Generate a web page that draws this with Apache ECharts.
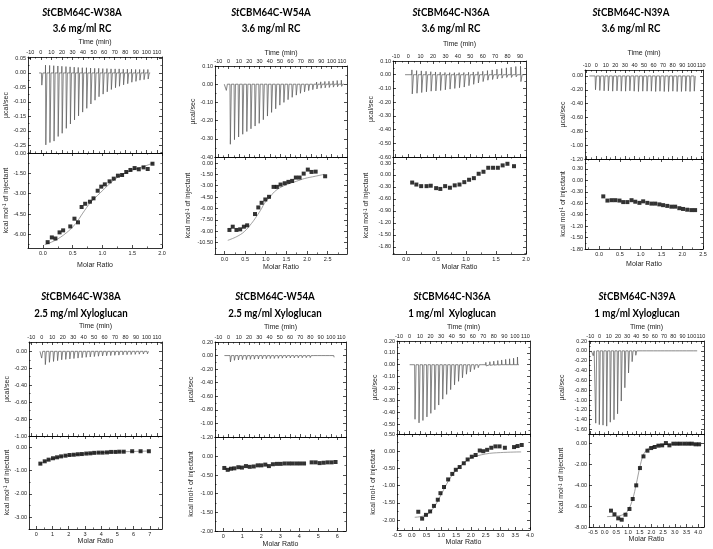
<!DOCTYPE html>
<html>
<head>
<meta charset="utf-8">
<script src="https://cdn.jsdelivr.net/npm/echarts@6/dist/echarts.min.js"></script>
<style>
html,body{margin:0;padding:0;background:#fff;}
#chart{width:713px;height:549px;}
</style>
</head>
<body>
<div id="chart"></div>
<script>
// ================= DATA =================
const titleNames = ['CBM64C-W38A','CBM64C-W54A','CBM64C-N36A','CBM64C-N39A','CBM64C-W38A','CBM64C-W54A','CBM64C-N36A','CBM64C-N39A'];
const titleSubs = ['3.6 mg/ml RC','3.6 mg/ml RC','3.6 mg/ml RC','3.6 mg/ml RC','2.5 mg/ml Xyloglucan','2.5 mg/ml Xyloglucan','1 mg/ml  Xyloglucan','1 mg/ml Xyloglucan'];

// tick label values
const timeTicks110 = [-10,0,10,20,30,40,50,60,70,80,90,100,110];
const timeTicks90 = [-10,0,10,20,30,40,50,60,70,80,90];
const p1UpperTicks = [0.05,0.00,-0.05,-0.10,-0.15,-0.20,-0.25];
const p1LowerTicks = [0.00,-1.50,-3.00,-4.50,-6.00];
const p1RatioTicks = [0.0,0.5,1.0,1.5,2.0];
const p2UpperTicks = [0.10,0.00,-0.10,-0.20,-0.30,-0.40];
const p2LowerTicks = [0.00,-1.50,-3.00,-4.50,-6.00,-7.50,-9.00,-10.50];
const p2RatioTicks = [0.0,0.5,1.0,1.5,2.0,2.5];
const p3UpperTicks = [0.10,0.00,-0.10,-0.20,-0.30,-0.40,-0.50,-0.60];
const p3LowerTicks = [0.30,0.00,-0.30,-0.60,-0.90,-1.20,-1.50,-1.80];
const p3RatioTicks = [0.0,0.5,1.0,1.5,2.0];
const p4UpperTicks = [0.00,-0.20,-0.40,-0.60,-0.80,-1.00,-1.20];
const p4LowerTicks = [0.30,0.00,-0.30,-0.60,-0.90,-1.20,-1.50,-1.80];
const p4RatioTicks = [0.0,0.5,1.0,1.5,2.0,2.5];
const p5UpperTicks = [0.00,-0.20,-0.40,-0.60,-0.80,-1.00];
const p5LowerTicks = [0.00,-1.00,-2.00,-3.00];
const p5RatioTicks = [0,1,2,3,4,5,6,7];
const p6UpperTicks = [0.20,0.00,-0.20,-0.40,-0.60,-0.80,-1.00,-1.20];
const p6LowerTicks = [0.00,-0.50,-1.00,-1.50,-2.00];
const p6RatioTicks = [0,1,2,3,4,5,6];
const p7UpperTicks = [0.20,0.10,0.00,-0.10,-0.20,-0.30,-0.40,-0.50];
const p7LowerTicks = [0.50,0.00,-0.50,-1.00,-1.50,-2.00];
const p7RatioTicks = [-0.5,0.0,0.5,1.0,1.5,2.0,2.5,3.0,3.5,4.0];
const p8UpperTicks = [0.20,0.00,-0.20,-0.40,-0.60,-0.80,-1.00,-1.20,-1.40,-1.60];
const p8LowerTicks = [0.00,-2.00,-4.00,-6.00,-8.00];
const p8RatioTicks = [-0.5,0.0,0.5,1.0,1.5,2.0,2.5,3.0,3.5,4.0];

// ---- panel 1: W38A, RC ----
const p1InjTime = [0.5,4.3,8.2,12.1,16.0,19.8,23.7,27.6,31.5,35.3,39.2,43.1,47.0,50.9,54.7,58.6,62.5,66.4,70.3,74.1,78.0,81.9,85.8,89.7,93.5,97.4,101.3];
const p1InjMin = [-0.042,-0.248,-0.240,-0.235,-0.219,-0.208,-0.191,-0.176,-0.162,-0.148,-0.135,-0.122,-0.107,-0.094,-0.082,-0.073,-0.065,-0.057,-0.051,-0.046,-0.041,-0.037,-0.032,-0.029,-0.025,-0.023,-0.021];
const p1InjMax = [0,0.027,0.026,0.025,0.024,0.023,0.022,0.021,0.020,0.019,0.018,0.018,0.017,0.016,0.016,0.015,0.015,0.014,0.014,0.014,0.013,0.013,0.013,0.012,0.012,0.012,0.012];
const p1Base = [-1.7,103.6];
const p1Ratio = [0.08,0.15,0.21,0.28,0.34,0.46,0.53,0.59,0.65,0.71,0.79,0.85,0.92,0.98,1.04,1.12,1.19,1.26,1.33,1.40,1.47,1.54,1.61,1.69,1.76,1.84];
const p1Heat = [-6.57,-6.22,-6.30,-5.85,-5.70,-5.41,-4.84,-5.11,-3.98,-3.74,-3.59,-3.34,-2.78,-2.48,-2.31,-2.09,-1.89,-1.67,-1.62,-1.40,-1.25,-1.11,-1.20,-1.06,-1.18,-0.79];
const p1FitX = [0.03,0.2,0.39,0.55,0.67,0.8,0.96,1.1,1.24,1.4,1.52,1.7,1.85];
const p1FitY = [-6.76,-6.45,-5.9,-5.2,-4.43,-3.65,-2.95,-2.35,-1.84,-1.45,-1.23,-0.98,-0.74];

// ---- panel 2: W54A, RC ----
const p2InjTime = [-2.6,1.3,5.3,9.3,13.3,17.3,21.3,25.3,29.3,33.3,37.3,41.3,45.3,49.3,53.3,57.3,61.3,65.3,69.3,73.3,77.3,81.3,85.3,89.3,93.3,97.3,101.3,105.3,109.3];
const p2InjMin = [-0.034,-0.33,-0.305,-0.29,-0.275,-0.26,-0.245,-0.23,-0.215,-0.195,-0.175,-0.155,-0.135,-0.115,-0.10,-0.085,-0.072,-0.06,-0.05,-0.042,-0.035,-0.03,-0.026,-0.022,-0.02,-0.018,-0.016,-0.014,-0.012];
const p2InjMax = [0,0,0,0,0,0,0,0,0,0,0,0,0,0,0.002,0.003,0.004,0.005,0.006,0.008,0.009,0.010,0.012,0.013,0.015,0.016,0.018,0.020,0.022];
const p2Base = [-4.2,112];
const p2Ratio = [0.12,0.20,0.29,0.38,0.47,0.55,0.74,0.82,0.90,0.99,1.08,1.19,1.27,1.36,1.46,1.55,1.64,1.73,1.82,1.92,2.02,2.11,2.21,2.44];
const p2Heat = [-8.83,-8.40,-8.83,-8.75,-8.40,-8.22,-6.73,-5.86,-5.25,-4.81,-4.46,-3.15,-3.15,-2.84,-2.67,-2.49,-2.36,-1.92,-1.92,-1.40,-0.87,-1.18,-1.14,-1.75];
const p2FitX = [0.08,0.3,0.48,0.65,0.77,0.9,0.97,1.1,1.21,1.35,1.53,1.75,1.94,2.2,2.42];
const p2FitY = [-10.2,-9.7,-9.05,-8.0,-7.1,-6.0,-5.3,-4.5,-3.8,-3.25,-2.8,-2.4,-2.05,-1.75,-1.49];

// ---- panel 3: N36A, RC ----
const p3InjTime = [2.9,6.7,10.5,14.3,18.1,21.9,25.7,29.5,33.3,37.1,40.9,44.7,48.5,52.3,56.1,59.9,63.7,67.5,71.3,75.1,78.9,82.7,86.5,90.3];
const p3InjMin = [-0.14,-0.135,-0.13,-0.125,-0.12,-0.118,-0.115,-0.11,-0.105,-0.10,-0.095,-0.09,-0.08,-0.07,-0.06,-0.05,-0.04,-0.035,-0.03,-0.025,-0.02,-0.02,-0.015,-0.05];
const p3InjMax = [0.035,0.03,0.028,0.025,0.022,0.02,0.018,0.016,0.015,0.015,0.015,0.016,0.018,0.02,0.022,0.025,0.03,0.035,0.04,0.045,0.05,0.055,0.06,0.062];
const p3Base = [-2.5,93.5];
const p3Ratio = [0.10,0.17,0.25,0.34,0.41,0.50,0.57,0.65,0.73,0.81,0.89,0.97,1.05,1.13,1.21,1.29,1.37,1.45,1.53,1.61,1.69,1.80];
const p3Heat = [-0.19,-0.24,-0.28,-0.28,-0.27,-0.33,-0.35,-0.28,-0.32,-0.26,-0.24,-0.18,-0.12,-0.08,0.03,0.08,0.18,0.18,0.18,0.24,0.28,0.22];

// ---- panel 4: N39A, RC ----
const p4InjTime = [-1.2,3.3,7.8,12.3,16.8,21.3,25.8,30.3,34.8,39.3,43.8,48.3,52.8,57.3,61.8,66.3,70.8,75.3,79.8,84.3,88.8,93.3,97.8,102.3];
const p4InjMin = [-0.20,-0.21,-0.215,-0.215,-0.22,-0.215,-0.22,-0.22,-0.215,-0.22,-0.225,-0.22,-0.22,-0.22,-0.225,-0.22,-0.225,-0.225,-0.22,-0.225,-0.225,-0.22,-0.225,-0.22];
const p4InjMax = [0.005,0.005,0.005,0.005,0.005,0.005,0.005,0.005,0.005,0.005,0.005,0.005,0.005,0.005,0.005,0.005,0.005,0.005,0.005,0.005,0.005,0.005,0.005,0.005];
const p4Base = [-7.2,103.5];
const p4Ratio = [0.10,0.20,0.30,0.39,0.49,0.58,0.68,0.78,0.87,0.97,1.06,1.16,1.26,1.35,1.45,1.54,1.64,1.74,1.83,1.93,2.02,2.12,2.22,2.31];
const p4Heat = [-0.42,-0.53,-0.52,-0.52,-0.53,-0.57,-0.57,-0.52,-0.56,-0.59,-0.55,-0.59,-0.61,-0.61,-0.63,-0.65,-0.67,-0.69,-0.69,-0.73,-0.75,-0.77,-0.78,-0.78];

// ---- panel 5: W38A, xyloglucan ----
const p5InjTime = [-0.5,3.0,6.9,10.8,14.7,18.6,22.5,26.4,30.3,34.2,38.1,42.0,45.9,49.8,53.7,57.6,61.5,65.4,69.3,73.2,77.1,81.0,84.9,88.8,92.7,96.6,100.5];
const p5InjMin = [-0.08,-0.157,-0.13,-0.12,-0.11,-0.10,-0.095,-0.09,-0.085,-0.08,-0.075,-0.07,-0.066,-0.062,-0.058,-0.055,-0.052,-0.05,-0.047,-0.045,-0.042,-0.04,-0.038,-0.036,-0.034,-0.032,-0.03];
const p5InjMax = [];
const p5Base = [-1.7,102.5];
const p5Ratio = [0.25,0.52,0.76,1.03,1.28,1.53,1.80,2.05,2.31,2.56,2.81,3.08,3.33,3.57,3.84,4.09,4.36,4.61,4.88,5.12,5.39,5.91,6.43,6.94];
const p5Heat = [-0.71,-0.61,-0.54,-0.48,-0.44,-0.40,-0.37,-0.34,-0.33,-0.31,-0.30,-0.28,-0.27,-0.25,-0.24,-0.24,-0.23,-0.21,-0.21,-0.20,-0.20,-0.18,-0.18,-0.18];
const p5FitX = [0.2,0.5,1,1.5,2,3,4,5,6,7];
const p5FitY = [-0.75,-0.62,-0.5,-0.41,-0.36,-0.29,-0.24,-0.21,-0.19,-0.17];

// ---- panel 6: W54A, xyloglucan ----
const p6InjTime = [1.4,5.3,9.2,13.1,17.0,20.9,24.8,28.7,32.6,36.5,40.4,44.3,48.2,52.1,56.0,59.9,63.8,67.7,71.6,75.5,79.4,83.3,87.2,91.1,95.0,98.9,102.8];
const p6InjMin = [-0.093,-0.07,-0.065,-0.06,-0.058,-0.055,-0.052,-0.05,-0.048,-0.046,-0.044,-0.042,-0.04,-0.038,-0.036,-0.035,-0.034,-0.033,-0.032,-0.031,-0.03,-0.029,-0.028,-0.027,-0.026,-0.025,-0.025];
const p6InjMax = [];
const p6Base = [-4.1,103.5];
const p6Ratio = [0.05,0.23,0.40,0.58,0.79,0.98,1.19,1.39,1.60,1.81,2.00,2.21,2.40,2.61,2.82,3.02,3.23,3.44,3.63,3.84,4.04,4.25,4.65,4.86,5.07,5.28,5.49,5.70,5.91];
const p6Heat = [-0.31,-0.36,-0.33,-0.32,-0.29,-0.30,-0.26,-0.28,-0.27,-0.24,-0.24,-0.22,-0.26,-0.21,-0.20,-0.20,-0.19,-0.19,-0.19,-0.19,-0.19,-0.19,-0.16,-0.16,-0.18,-0.17,-0.16,-0.16,-0.15];

// ---- panel 7: N36A, xyloglucan ----
const p7InjTime = [4.8,8.6,12.3,16.1,19.8,23.6,27.3,31.1,34.8,38.6,42.3,46.1,49.8,53.6,57.3,61.1,64.8,68.6,72.3,76.1,79.8,83.6,87.3,91.1,94.8,98.6,102.3];
const p7InjMin = [-0.46,-0.49,-0.47,-0.44,-0.41,-0.38,-0.34,-0.29,-0.25,-0.21,-0.17,-0.14,-0.11,-0.08,-0.06,-0.04,-0.025,-0.015,-0.01,-0.005,-0.003,-0.002,0,0,0,0,0];
const p7InjMax = [0,0,0,0,0,0,0,0,0,0,0,0,0.002,0.004,0.005,0.007,0.01,0.015,0.02,0.025,0.03,0.035,0.04,0.045,0.05,0.055,0.065];
const p7Base = [0.1,104.2];
const p7Ratio = [0.22,0.35,0.48,0.62,0.75,0.88,0.97,1.09,1.23,1.37,1.49,1.62,1.76,1.89,2.03,2.16,2.30,2.42,2.55,2.69,2.83,2.97,3.15,3.46,3.58,3.72];
const p7Heat = [-1.76,-1.96,-1.85,-1.75,-1.59,-1.41,-1.22,-1.04,-0.82,-0.66,-0.54,-0.46,-0.35,-0.24,-0.16,-0.11,0.02,0.00,0.04,0.10,0.14,0.14,0.10,0.12,0.15,0.18];
const p7FitX = [0.1,0.5,0.75,1.0,1.25,1.5,1.75,2.0,2.5,3.0,3.7];
const p7FitY = [-1.92,-1.85,-1.63,-1.25,-0.85,-0.55,-0.35,-0.2,-0.08,-0.04,-0.02];

// ---- panel 8: N39A, xyloglucan ----
const p8InjTime = [-7.2,-4.5,-0.6,3.4,7.4,11.3,15.3,19.2,23.2,27.1,31.1,35.0,39.0,42.9,46.9,50.8,54.8,58.7,62.7,66.6,70.6,74.5,78.5,82.4,86.4,90.3,94.3,98.2,102.2];
const p8InjMin = [-0.1,-1.47,-1.50,-1.51,-1.53,-1.45,-1.40,-1.28,-1.02,-0.75,-0.45,-0.22,-0.09,-0.04,-0.02,-0.01,-0.01,-0.01,-0.01,-0.01,-0.01,-0.01,-0.01,-0.01,-0.01,-0.01,-0.01,-0.01,-0.01];
const p8InjMax = [0,0,0,0,0,0,0,0,0,0,0,0,0,0,0.005,0.01,0.015,0.02,0.02,0.025,0.025,0.025,0.025,0.025,0.025,0.025,0.025,0.025,0.025];
const p8Base = [-8.9,106];
const p8Ratio = [0.27,0.42,0.58,0.73,0.89,1.06,1.20,1.35,1.51,1.66,1.83,1.99,2.14,2.30,2.46,2.62,2.77,2.94,3.10,3.25,3.42,3.58,3.73,3.89,4.04];
const p8Heat = [-6.43,-6.78,-7.17,-7.30,-6.82,-6.27,-5.31,-4.00,-2.34,-1.22,-0.67,-0.42,-0.32,-0.19,-0.16,0.06,-0.16,0.00,0.00,0.00,0.00,0.00,0.00,-0.06,-0.06];
const p8FitX = [0.1,0.5,0.8,1.0,1.2,1.35,1.5,1.65,1.8,2.0,2.5,3.0,4.05];
const p8FitY = [-7.0,-6.95,-6.8,-6.4,-5.3,-3.9,-2.3,-1.1,-0.6,-0.3,-0.1,-0.05,-0.03];

// ================= LAYOUT (positions only) =================
const layout = [
  {L:28, R:162, T:57, M:153, B:248, cx:82,  ty:[12,28],   tGap:11, uGap:14, lGap:14, mGap:14},
  {L:215,R:347, T:66, M:157, B:254, cx:271, ty:[12,28],   tGap:9,  uGap:11, lGap:23, mGap:10},
  {L:393,R:526, T:61, M:157, B:254, cx:451, ty:[12,28],   tGap:13, uGap:11, lGap:23, mGap:10},
  {L:585,R:703, T:70, M:159, B:249, cx:631, ty:[12,28],   tGap:13, uGap:15, lGap:15, mGap:12},
  {L:29, R:162, T:342,M:436, B:529, cx:81,  ty:[296,313], tGap:12, uGap:15, lGap:15, mGap:9},
  {L:215,R:346, T:342,M:437, B:532, cx:275, ty:[296,313], tGap:11, uGap:20, lGap:20, mGap:10},
  {L:397,R:530, T:341,M:434, B:530, cx:452, ty:[296,313], tGap:10, uGap:18, lGap:20, mGap:8},
  {L:589,R:704, T:341,M:434, B:527, cx:637, ty:[296,313], tGap:10, uGap:23, lGap:24, mGap:8}
];

const panels = [
  {inj:[p1InjTime,p1InjMin,p1InjMax,p1Base], t:[-12.2,114.8], tt:timeTicks110, u:[-0.276,0.055], ut:p1UpperTicks, r:[-0.25,2.0], rt:p1RatioTicks, rd:1, l:[-7.0,0.0], lt:p1LowerTicks, pts:[p1Ratio,p1Heat], fit:[p1FitX,p1FitY]},
  {inj:[p2InjTime,p2InjMin,p2InjMax,p2Base], t:[-13.2,114.9], tt:timeTicks110, u:[-0.40,0.10], ut:p2UpperTicks, r:[-0.23,2.97], rt:p2RatioTicks, rd:1, l:[-12.0,0.79], lt:p2LowerTicks, pts:[p2Ratio,p2Heat], fit:[p2FitX,p2FitY]},
  {inj:[p3InjTime,p3InjMin,p3InjMax,p3Base], t:[-12.2,94.8], tt:timeTicks90, u:[-0.60,0.10], ut:p3UpperTicks, r:[-0.22,2.0], rt:p3RatioTicks, rd:1, l:[-1.98,0.45], lt:p3LowerTicks, pts:[p3Ratio,p3Heat], fit:null},
  {inj:[p4InjTime,p4InjMin,p4InjMax,p4Base], t:[-11.8,111.8], tt:timeTicks110, u:[-1.20,0.086], ut:p4UpperTicks, r:[-0.34,2.5], rt:p4RatioTicks, rd:1, l:[-1.80,0.56], lt:p4LowerTicks, pts:[p4Ratio,p4Heat], fit:null},
  {inj:[p5InjTime,p5InjMin,p5InjMax,p5Base], t:[-12.2,114.8], tt:timeTicks110, u:[-1.00,0.11], ut:p5UpperTicks, r:[-0.45,7.75], rt:p5RatioTicks, rd:0, l:[-3.5,0.47], lt:p5LowerTicks, pts:[p5Ratio,p5Heat], fit:[p5FitX,p5FitY]},
  {inj:[p6InjTime,p6InjMin,p6InjMax,p6Base], t:[-13.3,114.8], tt:timeTicks110, u:[-1.20,0.20], ut:p6UpperTicks, r:[-0.44,6.46], rt:p6RatioTicks, rd:0, l:[-2.0,0.52], lt:p6LowerTicks, pts:[p6Ratio,p6Heat], fit:null},
  {inj:[p7InjTime,p7InjMin,p7InjMax,p7Base], t:[-11.9,114.3], tt:timeTicks110, u:[-0.584,0.20], ut:p7UpperTicks, r:[-0.5,4.0], rt:p7RatioTicks, rd:1, l:[-2.29,0.5], lt:p7LowerTicks, pts:[p7Ratio,p7Heat], fit:[p7FitX,p7FitY]},
  {inj:[p8InjTime,p8InjMin,p8InjMax,p8Base], t:[-11.4,113.4], tt:timeTicks110, u:[-1.69,0.20], ut:p8UpperTicks, r:[-0.67,4.25], rt:p8RatioTicks, rd:1, l:[-8.0,0.93], lt:p8LowerTicks, pts:[p8Ratio,p8Heat], fit:[p8FitX,p8FitY]}
];

// ================= BUILD =================
const FONT = '"Liberation Sans", Arial, sans-serif';
const option = {animation:false, backgroundColor:'#ffffff', grid:[], xAxis:[], yAxis:[], series:[], graphic:[]};

function fmt(v, d) { return (Math.abs(v) < 1e-9 ? 0 : v).toFixed(d); }

function minorsOf(majors, min, max) {
  const s = majors.slice().sort((a,b)=>a-b);
  const step = s[1]-s[0];
  const out = [];
  for (let k = -1; k < s.length; k++) {
    const v = s[0] + step*(k+0.5);
    if (v >= min-1e-9 && v <= max+1e-9) out.push(v);
  }
  return out;
}

function addAxis(dim, grid, pos, min, max, majors, opts) {
  opts = opts || {};
  const list = dim === 'x' ? option.xAxis : option.yAxis;
  const base = {type:'value', gridIndex:grid, position:pos, min:min, max:max, splitLine:{show:false}, splitArea:{show:false}};
  const primary = Object.assign({}, base, {
    axisLine:{show:true, onZero:false, lineStyle:{color:'#000', width:0.8}},
    axisTick:{show:true, inside:true, length:3, customValues:majors, lineStyle:{color:'#000', width:0.7}},
    axisLabel: opts.dec !== undefined ? {show:true, customValues:majors, formatter:(v)=>fmt(v,opts.dec), fontSize:5.5, fontFamily:FONT, color:'#222', margin:2} : {show:false}
  });
  if (opts.name) {
    primary.name = opts.name;
    primary.nameLocation = 'middle';
    primary.nameGap = opts.nameGap;
    primary.nameTextStyle = {fontSize:7, fontFamily:FONT, color:'#222', rich: opts.rich || {}};
  }
  list.push(primary);
  const idx = list.length - 1;
  list.push(Object.assign({}, base, {
    axisLine:{show:false, onZero:false},
    axisTick:{show:true, inside:true, length:1.6, customValues:minorsOf(majors,min,max), lineStyle:{color:'#000', width:0.6}},
    axisLabel:{show:false}
  }));
  return idx;
}

function thermoPoints(times, mins, maxs, base) {
  const pts = [[base[0], 0]];
  times.forEach((t, i) => {
    const mx = maxs[i] || 0;
    pts.push([t, 0]);
    if (mx) pts.push([t + 0.1, mx]);
    pts.push([t + 0.4, mins[i]]);
    pts.push([t + 1.4, 0]);
  });
  pts.push([base[1], 0]);
  return pts;
}

const supRich = {sup:{fontSize:4.5, fontFamily:FONT, color:'#222', verticalAlign:'top', lineHeight:6}};

panels.forEach((p, k) => {
  const g = layout[k];
  const gu = option.grid.length;
  option.grid.push({left:g.L, top:g.T, width:g.R-g.L, height:g.M-g.T, show:false});
  const gl = option.grid.length;
  option.grid.push({left:g.L, top:g.M, width:g.R-g.L, height:g.B-g.M, show:false});

  const xt = addAxis('x', gu, 'top', p.t[0], p.t[1], p.tt, {dec:0, name:'Time (min)', nameGap:g.tGap});
  addAxis('x', gu, 'bottom', p.t[0], p.t[1], p.tt, {});
  const yu = addAxis('y', gu, 'left', p.u[0], p.u[1], p.ut, {dec:2, name:'\u00b5cal/sec', nameGap:g.uGap});
  addAxis('y', gu, 'right', p.u[0], p.u[1], p.ut, {});

  const xb = addAxis('x', gl, 'bottom', p.r[0], p.r[1], p.rt, {dec:p.rd, name:'Molar Ratio', nameGap:g.mGap});
  addAxis('x', gl, 'top', p.r[0], p.r[1], p.rt, {});
  const yl = addAxis('y', gl, 'left', p.l[0], p.l[1], p.lt, {dec:2, name:'kcal mol{sup|-1} of injectant', nameGap:g.lGap, rich:supRich});
  addAxis('y', gl, 'right', p.l[0], p.l[1], p.lt, {});

  option.series.push({
    type:'line', xAxisIndex:xt, yAxisIndex:yu, data:thermoPoints(p.inj[0], p.inj[1], p.inj[2], p.inj[3]),
    symbol:'none', showSymbol:false, lineStyle:{color:'#555', width:0.7}, clip:true, silent:true, z:2
  });
  if (p.fit) {
    option.series.push({
      type:'line', xAxisIndex:xb, yAxisIndex:yl, data:p.fit[0].map((x,i)=>[x, p.fit[1][i]]),
      smooth:0.4, symbol:'none', showSymbol:false, lineStyle:{color:'#777', width:0.7}, clip:true, silent:true, z:2
    });
  }
  option.series.push({
    type:'scatter', xAxisIndex:xb, yAxisIndex:yl, data:p.pts[0].map((x,i)=>[x, p.pts[1][i]]),
    symbol:'rect', symbolSize:4, itemStyle:{color:'#000'}, silent:true, z:3
  });

  option.graphic.push({
    type:'text', x:g.cx, y:g.ty[0], scaleX:0.88, silent:true,
    style:{text:'{i|St}{b|' + titleNames[k] + '}', align:'center', verticalAlign:'middle', textAlign:'center', textVerticalAlign:'middle',
      rich:{i:{fontFamily:'Lato', fontWeight:'bold', fontStyle:'italic', fontSize:11, fill:'#000'}, b:{fontFamily:'Lato', fontWeight:'bold', fontSize:11, fill:'#000'}}}
  });
  option.graphic.push({
    type:'text', x:g.cx, y:g.ty[1], scaleX:0.88, silent:true,
    style:{text:titleSubs[k], align:'center', verticalAlign:'middle', textAlign:'center', textVerticalAlign:'middle',
      font:'bold 11px Lato', fill:'#000'}
  });
});

const chart = echarts.init(document.getElementById('chart'), null, {renderer:'canvas'});
chart.setOption(option);
</script>
</body>
</html>
